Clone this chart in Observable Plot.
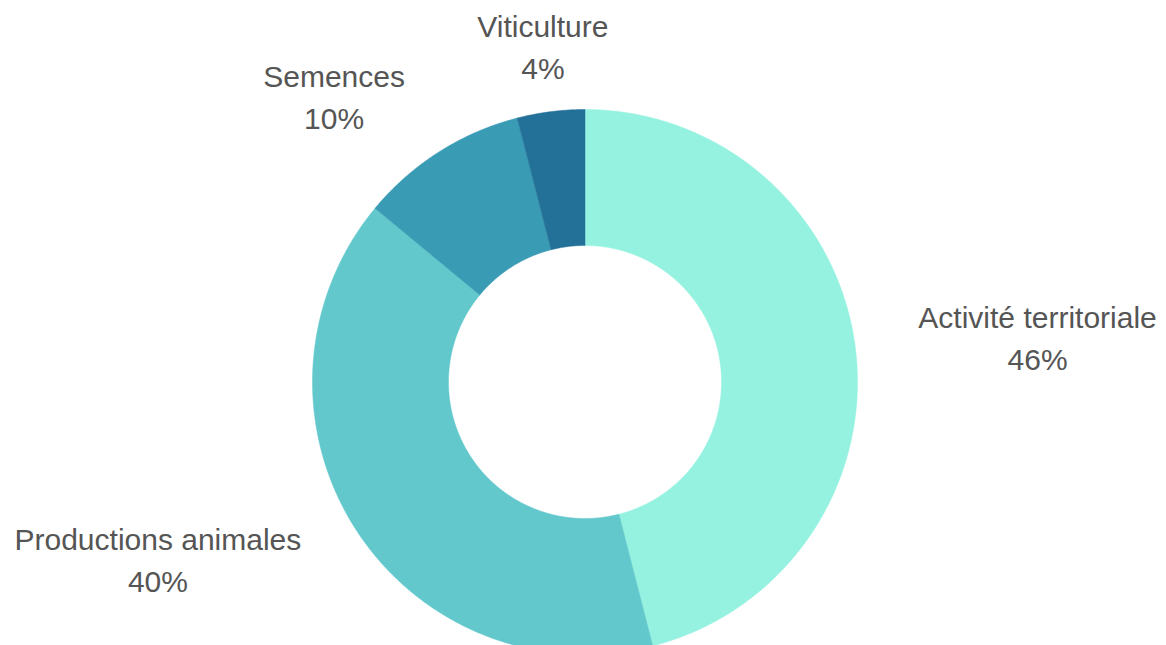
<!DOCTYPE html>
<html>
<head>
<meta charset="utf-8">
<script src="https://cdn.jsdelivr.net/npm/d3@7"></script>
<script src="https://cdn.jsdelivr.net/npm/@observablehq/plot@0.6"></script>
<style>
  html, body { margin: 0; padding: 0; background: #fff; overflow: hidden; }
</style>
</head>
<body>
<div id="chart"></div>
<script>
const categories = ["Activité territoriale", "Productions animales", "Semences", "Viticulture"];
const values = [46, 40, 10, 4];
const colors = ["#96f2e0", "#62c8cc", "#3a9bb4", "#237099"];
const valueLabels = ["46%", "40%", "10%", "4%"];

const W = 1166, H = 645;
const cx = 584.5, cy = 381.5, rOuter = 272.5, rInner = 136.5, rLabel = 336;
const FONT = "'Liberation Sans', Arial, sans-serif";
const FS = 30;

const total = d3.sum(values);
let acc = 0;
const slices = values.map((v, i) => {
  const a0 = acc / total * 2 * Math.PI;
  acc += v;
  const a1 = acc / total * 2 * Math.PI;
  return {cat: categories[i], color: colors[i], label: valueLabels[i], a0, a1, mid: (a0 + a1) / 2};
});

const pt = (a, r) => ({x: cx + r * Math.sin(a), y: cy - r * Math.cos(a)});

function polygon(s) {
  const n = Math.max(4, Math.ceil((s.a1 - s.a0) / (Math.PI / 360)));
  const pts = [];
  for (let k = 0; k <= n; k++) pts.push(pt(s.a0 + (s.a1 - s.a0) * k / n, rOuter));
  for (let k = n; k >= 0; k--) pts.push(pt(s.a0 + (s.a1 - s.a0) * k / n, rInner));
  pts.push(pts[0]);
  return pts.map(p => ({...p, cat: s.cat}));
}

const ctx = document.createElement("canvas").getContext("2d");
ctx.font = `${FS}px ${FONT}`;
const measure = t => ctx.measureText(t).width;

const labels = slices.map(s => {
  const p = pt(s.mid, rLabel);
  const sn = Math.sin(s.mid);
  const w = Math.max(measure(s.cat), measure(s.label));
  const x = sn > 0.3 ? p.x + w / 2 : sn < -0.3 ? p.x - w / 2 : p.x;
  return {x, y: p.y, t: s.cat + "\n" + s.label};
});

const marks = [];
for (const s of slices) {
  marks.push(Plot.line(polygon(s), {x: "x", y: "y", fill: s.color, stroke: s.color, strokeWidth: 0.5, curve: "linear"}));
}
marks.push(Plot.text(labels, {
  x: "x", y: "y", text: "t", textAnchor: "middle", lineAnchor: "middle",
  lineHeight: 1.4, fontSize: FS, fill: "#555555", dy: -4,
  fontFamily: FONT
}));

const chart = Plot.plot({
  width: W, height: H,
  margin: 0,
  x: {domain: [0, W], range: [0, W], axis: null},
  y: {domain: [0, H], range: [0, H], axis: null},
  style: {background: "#fff", fontFamily: FONT, overflow: "visible"},
  marks
});
document.getElementById("chart").appendChild(chart);
</script>
</body>
</html>
